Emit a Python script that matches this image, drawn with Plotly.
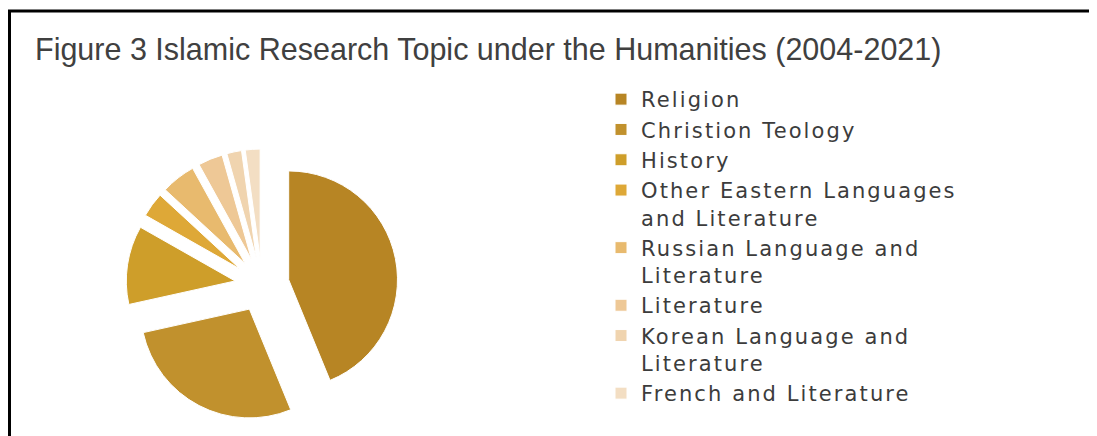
import plotly.graph_objects as go

# slice data, clockwise from 12 o'clock
topics = ["Religion", "Christion Teology", "History",
          "Other Eastern Languages<br>and Literature",
          "Russian Language and<br>Literature", "Literature",
          "Korean Language and<br>Literature", "French and Literature"]
counts = [60, 38, 16, 5, 7, 5, 3, 3]
slice_colors = ['#B78524', '#C1912D', '#CE9E2A', '#DEA837',
                '#E8BA6E', '#EEC896', '#F0D4AF', '#F3DEC3']

# the page body adds an 8px margin, so the figure is drawn 8px in
W, H = 1089, 428


def px_x(x):
    return (x - 8) / W


def px_y(y):
    return 1 - (y - 8) / H


def spaced(label):
    # the legend font in the picture is widely tracked
    return "<br>".join('<span style="letter-spacing:2.1px">%s</span>' % part
                       for part in label.split("<br>"))


fig = go.Figure(go.Pie(
    labels=[spaced(t) for t in topics],
    values=counts,
    sort=False,
    direction='clockwise',
    rotation=0,
    pull=[0.25] * len(counts),
    textinfo='none',
    marker=dict(colors=slice_colors, line=dict(color='white', width=1)),
    domain=dict(x=[px_x(126), px_x(398)], y=[px_y(421), px_y(149)]),
))

fig.update_layout(
    width=W, height=H,
    margin=dict(l=0, r=0, t=0, b=0),
    paper_bgcolor='white',
    title=dict(text="Figure 3 Islamic Research Topic under the Humanities (2004-2021)",
               x=px_x(35), xanchor='left', y=px_y(49), yanchor='middle',
               font=dict(family='Liberation Sans', size=30.5, color='#404040')),
    legend=dict(x=px_x(601), xanchor='left', y=px_y(79), yanchor='top',
                valign='top', font=dict(family='DejaVu Sans', size=21, color='#3c3c3c')),
    shapes=[
        dict(type='line', xref='paper', yref='paper', x0=px_x(8), x1=1,
             y0=px_y(11), y1=px_y(11), line=dict(color='black', width=3)),
        dict(type='line', xref='paper', yref='paper', x0=px_x(9.5), x1=px_x(9.5),
             y0=px_y(11), y1=0, line=dict(color='black', width=3)),
    ],
)

fig.write_html("out.html")
